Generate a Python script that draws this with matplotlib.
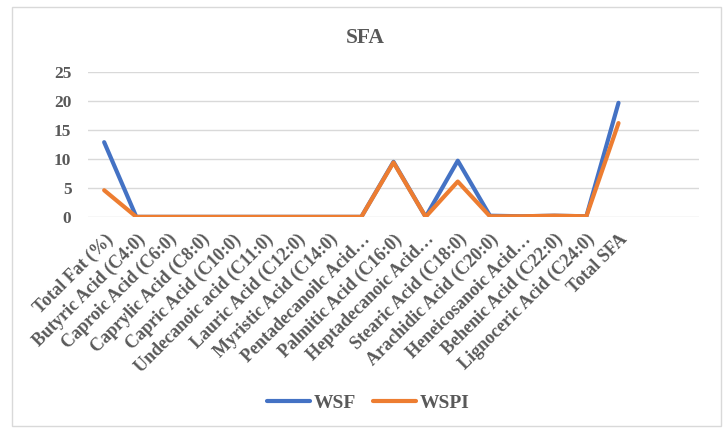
import matplotlib.pyplot as plt
from matplotlib.patches import Rectangle

# fatty acid categories on the x axis
categories = ['Total Fat (%)', 'Butyric Acid (C4:0)', 'Caproic Acid (C6:0)',
              'Caprylic Acid (C8:0)', 'Capric Acid (C10:0)', 'Undecanoic acid (C11:0)',
              'Lauric Acid (C12:0)', 'Myristic Acid (C14:0)', 'Pentadecanoilc Acid…',
              'Palmitic Acid (C16:0)', 'Heptadecanoic Acid…', 'Stearic Acid (C18:0)',
              'Arachidic Acid (C20:0)', 'Heneicosanoic Acid…', 'Behenic Acid (C22:0)',
              'Lignoceric Acid (C24:0)', 'Total SFA']

wsf = [12.9, 0, 0, 0, 0, 0, 0, 0, 0, 9.5, 0, 9.7, 0.2, 0.1, 0.2, 0.1, 19.7]
wspi = [4.6, 0, 0, 0, 0, 0, 0, 0, 0, 9.4, 0, 6.1, 0.1, 0.1, 0.2, 0.1, 16.2]

yticks = [0, 5, 10, 15, 20, 25]

grey = '#595959'
serif = 'Liberation Serif'

fig = plt.figure(figsize=(7.28, 4.32), dpi=100)
ax = fig.add_axes([0.121, 0.498, 0.839, 0.335])

# light frame around the whole chart
fig.patches.append(Rectangle((0.016, 0.015), 0.975, 0.968, transform=fig.transFigure,
                             fill=False, edgecolor='#d9d9d9', linewidth=1))

xs = range(len(categories))
ax.plot(xs, wsf, color='#4472C4', linewidth=3, label='WSF', solid_capstyle='round')
ax.plot(xs, wspi, color='#ED7D31', linewidth=3, label='WSPI', solid_capstyle='round')

ax.set_xlim(-0.5, len(categories) + 1.5)
ax.set_ylim(0, 25)
ax.set_yticks(yticks)
ax.set_yticklabels([str(t) for t in yticks], family=serif, fontweight='bold',
                   fontsize=12.5, color=grey)
ax.set_xticks(list(xs))
ax.set_xticklabels(categories, rotation=45, ha='right', rotation_mode='anchor',
                   family=serif, fontweight='bold', fontsize=13, color=grey)
ax.tick_params(length=0, pad=10)
ax.tick_params(axis='y', pad=12)
ax.grid(axis='y', color='#d9d9d9', linewidth=1)
ax.set_axisbelow(True)
for s in ax.spines.values():
    s.set_visible(False)

fig.text(0.502, 0.912, 'SFA', ha='center', va='center', family=serif,
         fontweight='bold', fontsize=15.5, color=grey)

fig.legend(loc='center', bbox_to_anchor=(0.506, 0.067), ncol=2, frameon=False,
           prop={'family': serif, 'weight': 'bold', 'size': 14},
           handlelength=2.2, columnspacing=0.9, handletextpad=0.2, labelcolor=grey)

fig.savefig('out.png', dpi=100)
